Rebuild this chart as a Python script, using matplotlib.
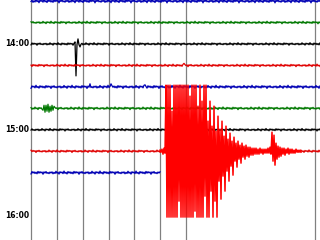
import numpy as np
import matplotlib
matplotlib.use("Agg")
import matplotlib.pyplot as plt

# ----------------------------
# helicorder layout (rows are 15 min each, top to bottom)
# ----------------------------
row_colors = ["#0000b4", "#007800", "#000000", "#e00000",
              "#0000b4", "#007800", "#000000", "#e00000", "#0000b4"]
row_end = [11.2, 11.2, 11.2, 11.2, 11.2, 11.2, 11.2, 11.2, 5.0]   # minute where each trace stops
noise_gain = [1.7, 1.2, 1.2, 1.2, 1.5, 1.3, 1.2, 1.2, 1.5]

hour_labels = ["14:00", "15:00", "16:00"]
hour_rows = [2, 6, 10]
grid_minutes = [0, 1, 2, 3, 4, 5, 6, 11]

# scale of the picture
PX_X = 25.85   # pixels per minute
PX_Y = 21.45   # pixels per row
CLIP = 66      # clip level of the drum, pixels

noise = [0.3, -0.5, 0.8, -0.2, 0.6, -0.9, 0.4, -0.3, 1.0, -0.6, 0.2, -0.4,
         0.7, -1.0, 0.5, -0.2, 0.9, -0.7, 0.3, -0.5, 0.6, -0.3, 0.8, -0.8,
         0.4, -0.6, 0.2, -0.4, 1.1, -0.5, 0.3, -0.7, 0.5, -0.1, 0.7, -0.4]

# single spikes: (row, minute, deflection px, + is down)
spikes = [(2, 1.74, 32), (2, 1.70, -2), (2, 1.82, -5), (2, 1.90, 3),
          (4, 2.30, -3), (4, 3.10, -3), (4, 4.40, -2), (3, 5.90, -2)]

# small local burst on the green 14:45 row
burst_row = 5
burst_start = 0.46
burst = [2, -3, 4, -3, 3, -4, 4, -2, 3, -3, 2, -2]

# the earthquake on the 15:15 row, sampled every 2 px from minute 4.99
quake_row = 7
quake_start = 4.99
quake_up = [1, 2, 3, 66, 66, 66, 40, 66, 66, 66, 66, 66, 66, 66, 66, 55, 66, 66,
            66, 45, 66, 50, 66, 66, 30, 50, 25, 45, 20, 35, 22, 30, 15, 25, 12, 18,
            10, 14, 8, 10, 6, 8, 5, 6, 4, 4, 3, 3, 3, 2, 3, 2, 2, 2, 3, 4,
            19, 16, 8, 5, 4, 3, 3, 2, 3, 2, 2, 1, 2, 1, 1]
quake_dn = [1, 3, 2, 66, 66, 66, 66, 66, 66, 50, 66, 66, 66, 66, 66, 66, 66, 60,
            66, 66, 66, 66, 45, 66, 66, 40, 66, 50, 66, 30, 48, 25, 40, 20, 30, 15,
            24, 10, 16, 8, 12, 6, 8, 5, 6, 4, 4, 3, 3, 3, 2, 3, 2, 2, 2, 3,
            10, 14, 8, 6, 5, 3, 4, 2, 3, 2, 2, 2, 1, 1, 1]

fig = plt.figure(figsize=(3.2, 2.4), dpi=100)
ax = fig.add_axes([0, 0, 1, 1])
ax.set_xlim(-31 / PX_X, 289 / PX_X)
ax.set_ylim(239 / PX_Y, -1 / PX_Y)
ax.axis("off")

for m in grid_minutes:
    ax.axvline(m, color="#808080", lw=0.9, zorder=1)

dx = 1 / PX_X
for r, col in enumerate(row_colors):
    x = np.arange(0, row_end[r], dx)
    y = np.resize(np.roll(noise, 7 * r), len(x)) * noise_gain[r]
    for sr, sm, sv in spikes:
        if sr == r:
            y[int(round(sm / dx))] = sv
    if r == burst_row:
        i0 = int(round(burst_start / dx))
        y[i0:i0 + len(burst)] = burst
    ax.plot(x, r + y / PX_Y, color=col, lw=0.9, zorder=2 + r)
    if r == quake_row:
        # the quake itself, drawn over the quiet trace in full red
        i0 = int(round(quake_start / dx))
        n = 2 * len(quake_up)
        q = np.empty(n)
        q[0::2] = -np.array(quake_up)
        q[1::2] = quake_dn
        q = np.clip(q, -CLIP, CLIP)
        ax.plot(x[i0:i0 + n], r + q / PX_Y, color="#ff0000", lw=1.1, zorder=20)

for lab, r in zip(hour_labels, hour_rows):
    ax.text(-2 / PX_X, r, lab, ha="right", va="center", fontsize=5.5,
            fontweight="bold", color="#000000", family="DejaVu Sans")

fig.savefig("out.png", dpi=100)
